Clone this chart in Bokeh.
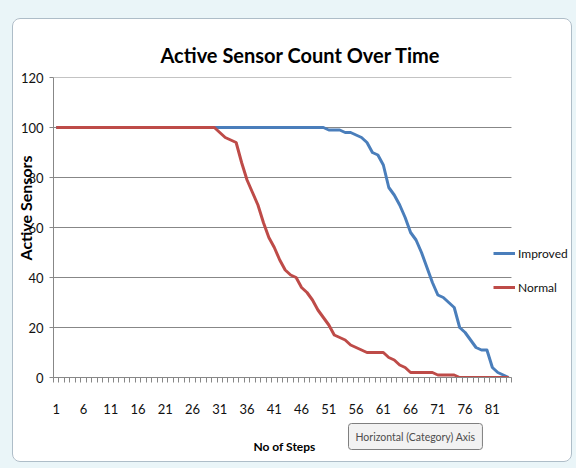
from bokeh.plotting import figure
from bokeh.models import (Range1d, FixedTicker, Legend, LegendItem, Title,
                          ColumnDataSource)
from bokeh.embed import file_html
from bokeh.resources import INLINE

# ---- data ----
steps = list(range(1, 85))
improved = [100, 100, 100, 100, 100, 100, 100, 100, 100, 100,
            100, 100, 100, 100, 100, 100, 100, 100, 100, 100,
            100, 100, 100, 100, 100, 100, 100, 100, 100, 100,
            100, 100, 100, 100, 100, 100, 100, 100, 100, 100,
            100, 100, 100, 100, 100, 100, 100, 100, 100, 100,
            99, 99, 99, 98, 98, 97, 96, 94, 90, 89,
            85, 76, 73, 69, 64, 58, 55, 50, 44, 38,
            33, 32, 30, 28, 20, 18, 15, 12, 11, 11,
            4, 2, 1, 0]
normal = [100, 100, 100, 100, 100, 100, 100, 100, 100, 100,
          100, 100, 100, 100, 100, 100, 100, 100, 100, 100,
          100, 100, 100, 100, 100, 100, 100, 100, 100, 100,
          98, 96, 95, 94, 86, 79, 74, 69, 62, 56,
          52, 47, 43, 41, 40, 36, 34, 31, 27, 24,
          21, 17, 16, 15, 13, 12, 11, 10, 10, 10,
          10, 8, 7, 5, 4, 2, 2, 2, 2, 2,
          1, 1, 1, 1, 0, 0, 0, 0, 0, 0,
          0, 0, 0, 0]
x_tick_labels = [1, 6, 11, 16, 21, 26, 31, 36, 41, 46, 51, 56, 61, 66, 71, 76, 81]
y_ticks = [0, 20, 40, 60, 80, 100, 120]
series_names = ["Improved", "Normal"]
title_text = "Active Sensor Count Over Time"
x_title = "No of Steps"
y_title = "Active Sensors"
tooltip_text = "Horizontal (Category) Axis"

FONT = "Lato"
BLUE = "#4A7EBB"
RED = "#BE4B48"
GRAY = "#878787"

x_lo = steps[0] - 0.5
x_hi = steps[-1] + 0.5

src = ColumnDataSource(dict(step=steps, improved=improved, normal=normal))
grid_src = ColumnDataSource(dict(x0=[x_lo] * len(y_ticks), x1=[x_hi] * len(y_ticks),
                                 y=y_ticks))

# chart-area frame (rounded border) drawn with CSS over the canvas
chart_css = """
:host { position: relative; }
:host::after {
  content: "";
  position: absolute;
  box-sizing: border-box;
  left: 12px; top: 18px; width: 560px; height: 444px;
  border: 1.5px solid #aebdc8;
  border-radius: 8px;
  box-shadow: 0 0 0 24px #eaf5f8;
  pointer-events: none;
  z-index: 10;
}
"""

# plot frame extends to the right so that the legend (placed inside) is not clipped
p = figure(width=576, height=468, output_backend="svg", toolbar_location=None,
           x_range=Range1d(x_lo, 96.43), y_range=Range1d(0, 120),
           min_border_left=53, min_border_right=0, min_border_top=77,
           min_border_bottom=91, stylesheets=[chart_css])
p.outline_line_color = None
p.background_fill_color = "white"
p.border_fill_color = "white"

# title
p.title.text = title_text
p.title.align = "left"
p.title.offset = 107
p.title.standoff = 22
p.title.text_font = FONT
p.title.text_font_style = "bold"
p.title.text_font_size = "20px"
p.title.text_color = "black"

# x axis
xa = p.xaxis[0]
xa.bounds = (x_lo, x_hi)
xa.ticker = FixedTicker(ticks=x_tick_labels,
                        minor_ticks=[s - 0.5 for s in steps] + [x_hi])
xa.major_tick_out = 0
xa.major_tick_in = 0
xa.minor_tick_out = 5
xa.minor_tick_in = 0
xa.minor_tick_line_color = GRAY
xa.axis_line_color = GRAY
xa.major_label_standoff = 21
xa.major_label_text_font = FONT
xa.major_label_text_font_size = "13px"
xa.major_label_text_color = "#111111"
# blank axis label only reserves the room used by the two texts below
xa.axis_label = " "
xa.axis_label_standoff = 19
xa.axis_label_text_font = FONT
xa.axis_label_text_font_size = "13px"

# y axis
ya = p.yaxis[0]
ya.ticker = FixedTicker(ticks=y_ticks)
ya.major_tick_out = 4
ya.major_tick_in = 0
ya.minor_tick_out = 0
ya.minor_tick_in = 0
ya.major_tick_line_color = GRAY
ya.axis_line_color = GRAY
ya.major_label_standoff = 6
ya.major_label_text_font = FONT
ya.major_label_text_font_size = "13px"
ya.major_label_text_color = "#111111"

p.xgrid.visible = False
p.ygrid.visible = False
p.segment(x0="x0", x1="x1", y0="y", y1="y", source=grid_src,
          line_color=GRAY, line_width=1)

# series
r_imp = p.line("step", "improved", source=src, line_color=BLUE, line_width=3,
               line_join="round")
r_nor = p.line("step", "normal", source=src, line_color=RED, line_width=3,
               line_join="round")

legend = Legend(items=[LegendItem(label=series_names[0], renderers=[r_imp]),
                       LegendItem(label=series_names[1], renderers=[r_nor])],
                location=(440, 80), orientation="vertical",
                glyph_width=22, glyph_height=20, label_height=20,
                label_standoff=3, spacing=14, padding=0, margin=0,
                label_text_font=FONT, label_text_font_size="12px",
                label_text_color="#111111",
                background_fill_alpha=0, border_line_alpha=0)
p.add_layout(legend)

# axis titles as side-panel titles (placed like the reference)
p.add_layout(Title(text=y_title, align="left", offset=117, standoff=-34,
                   vertical_align="bottom", text_font=FONT,
                   text_font_style="bold", text_font_size="16px",
                   text_color="black"), "left")
p.add_layout(Title(text=x_title, align="left", offset=200, standoff=-32,
                   vertical_align="top", text_font=FONT,
                   text_font_style="bold", text_font_size="12px",
                   text_color="black"), "below")

# tooltip-like box seen in the reference
tip_kw = dict(text=tooltip_text, align="left", offset=295, standoff=-62,
              vertical_align="top", text_font=FONT, text_font_size="10.5px",
              text_font_style="normal", text_color="#4d4d4d",
              background_fill_color="#f2f2f2", border_line_color="#7f7f7f")
props = Title.properties()
if "padding" in props:
    tip_kw["padding"] = 7
if "border_radius" in props:
    tip_kw["border_radius"] = 3
p.add_layout(Title(**tip_kw), "below")

open("out.html", "w").write(file_html(p, INLINE))
